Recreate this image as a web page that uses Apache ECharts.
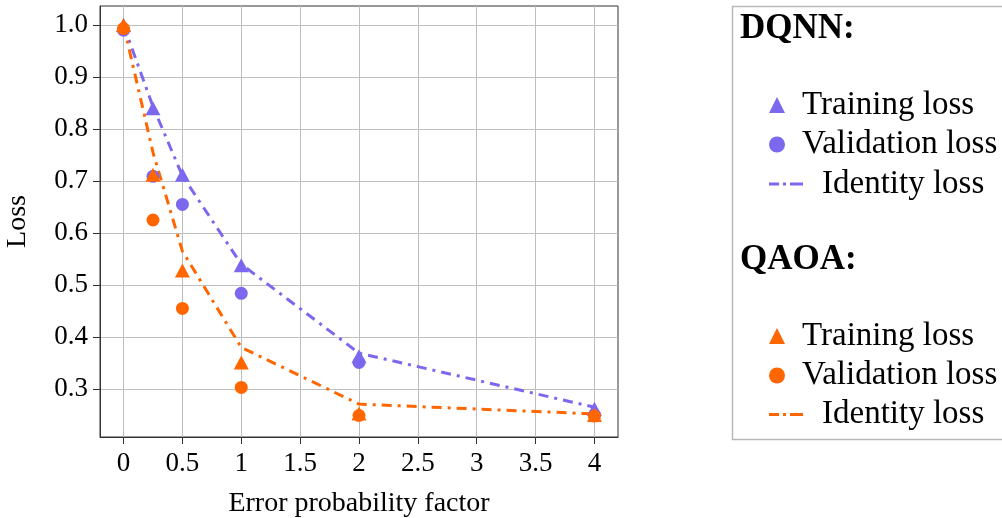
<!DOCTYPE html>
<html>
<head>
<meta charset="utf-8">
<script src="https://cdn.jsdelivr.net/npm/echarts@6/dist/echarts.min.js"></script>
<style>
  html, body { margin: 0; padding: 0; background: #fff; }
  #chart { width: 1002px; height: 518px; }
</style>
</head>
<body>
<div id="chart"></div>
<script>
// Error probability factors (x values)
const errorFactor = [0, 0.25, 0.5, 1, 2, 4];

// DQNN losses
const dqnnTraining   = [1.0, 0.840, 0.712, 0.538, 0.363, 0.262];
const dqnnValidation = [0.99, 0.709, 0.655, 0.484, 0.351, 0.250];
const dqnnIdentity   = [1.0, 0.843, 0.710, 0.540, 0.369, 0.265];

// QAOA losses
const qaoaTraining   = [1.0, 0.712, 0.528, 0.351, 0.253, 0.250];
const qaoaValidation = [0.993, 0.625, 0.455, 0.303, 0.249, 0.248];
const qaoaIdentity   = [1.0, 0.755, 0.565, 0.380, 0.271, 0.252];

// Axis ticks
const xTicks = [0, 0.5, 1, 1.5, 2, 2.5, 3, 3.5, 4];
const yTicks = [0.3, 0.4, 0.5, 0.6, 0.7, 0.8, 0.9, 1.0];

const PURPLE = '#7B68EE';
const ORANGE = '#FF6600';
const FONT = 'Liberation Serif';
const DASHDOT = [10, 6, 3, 6];
// dash-dot legend swatch: dash, dot, dash
const DASHDOT_ICON = 'path://M0,0h10v3h-10z M14,0h3v3h-3z M21,0h13v3h-13z';

const pairs = ys => errorFactor.map((x, i) => [x, ys[i]]);

function markerSeries(name, ys, color, symbol, size) {
  return {
    name, type: 'scatter', data: pairs(ys), symbol, symbolSize: size,
    itemStyle: { color, opacity: 1 }, silent: true, z: 3
  };
}
function identitySeries(name, ys, color) {
  return {
    name, type: 'line', data: pairs(ys), symbol: 'none', silent: true,
    lineStyle: { color, width: 3, type: DASHDOT }, itemStyle: { color }, z: 2
  };
}

function legendBlock(names, top, iconW, iconH, padLeft, icon) {
  const block = {
    orient: 'vertical', left: 769, top, padding: 0, itemGap: 0,
    itemWidth: iconW, itemHeight: iconH, selectedMode: false,
    data: names,
    formatter: n => n.slice(5),
    textStyle: { fontFamily: FONT, fontSize: 33, color: '#000', lineHeight: 39.5, padding: [0, 0, 0, padLeft] }
  };
  if (icon) block.icon = icon;
  return block;
}

const chart = echarts.init(document.getElementById('chart'), null, { renderer: 'canvas' });
chart.setOption({
  animation: false,
  backgroundColor: '#fff',
  grid: {
    left: 100, top: 6, right: 384, bottom: 81,
    containLabel: false, outerBoundsMode: 'none',
    show: true, borderColor: '#333', borderWidth: 1
  },
  xAxis: {
    type: 'value', min: -0.2, max: 4.2,
    name: 'Error probability factor', nameLocation: 'middle', nameGap: 53,
    nameTextStyle: { fontFamily: FONT, fontSize: 28, color: '#000' },
    axisLine: { show: true, onZero: false, lineStyle: { color: '#333', width: 1 } },
    axisTick: { show: true, inside: false, length: 7, customValues: xTicks, lineStyle: { color: '#333' } },
    axisLabel: { customValues: xTicks, margin: 13, fontFamily: FONT, fontSize: 27, color: '#000', formatter: v => String(v) },
    splitLine: { show: true, lineStyle: { color: '#bdbdbd', width: 1 } }
  },
  yAxis: {
    type: 'value', min: 0.2077, max: 1.0365,
    name: 'Loss', nameLocation: 'middle', nameGap: 68,
    nameTextStyle: { fontFamily: FONT, fontSize: 28, color: '#000' },
    axisLine: { show: true, onZero: false, lineStyle: { color: '#333', width: 1 } },
    axisTick: { show: true, inside: false, length: 7, customValues: yTicks, lineStyle: { color: '#333' } },
    axisLabel: { customValues: yTicks, margin: 12, fontFamily: FONT, fontSize: 27, color: '#000', formatter: v => v.toFixed(1) },
    splitLine: { show: true, lineStyle: { color: '#bdbdbd', width: 1 } }
  },
  legend: [
    legendBlock(['DQNN Training loss', 'DQNN Validation loss'], 85.25, 16, 16, 12),
    legendBlock(['DQNN Identity loss'], 164.25, 34, 3, 14, DASHDOT_ICON),
    legendBlock(['QAOA Training loss', 'QAOA Validation loss'], 316.25, 16, 16, 12),
    legendBlock(['QAOA Identity loss'], 394.75, 34, 3, 14, DASHDOT_ICON)
  ],
  graphic: [
    { type: 'rect', left: 730, top: 4, shape: { width: 320, height: 433 }, style: { fill: 'none', stroke: '#b8b8b8', lineWidth: 1.5 }, silent: true },
    { type: 'text', left: 740, top: 11, style: { text: 'DQNN:', font: 'bold 35px "Liberation Serif"', fill: '#000' } },
    { type: 'text', left: 740, top: 242, style: { text: 'QAOA:', font: 'bold 35px "Liberation Serif"', fill: '#000' } }
  ],
  series: [
    markerSeries('DQNN Training loss', dqnnTraining, PURPLE, 'triangle', [15, 14]),
    markerSeries('DQNN Validation loss', dqnnValidation, PURPLE, 'circle', 13),
    identitySeries('DQNN Identity loss', dqnnIdentity, PURPLE),
    markerSeries('QAOA Training loss', qaoaTraining, ORANGE, 'triangle', [15, 14]),
    markerSeries('QAOA Validation loss', qaoaValidation, ORANGE, 'circle', 13),
    identitySeries('QAOA Identity loss', qaoaIdentity, ORANGE)
  ]
});
</script>
</body>
</html>
